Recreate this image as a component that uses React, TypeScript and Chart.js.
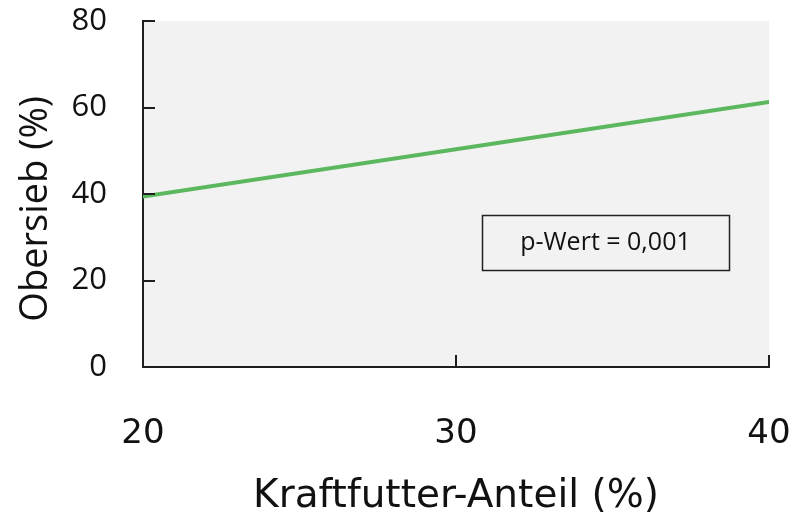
import { useEffect, useRef } from "react";
import { Chart, registerables } from "chart.js";

Chart.register(...registerables);

// ---- data ----
const kraftfutterAnteil = [20, 40];
const obersieb = [39.4, 61.3];
const xTickValues = [20, 30, 40];
const yTickValues = [0, 20, 40, 60, 80];
const xTitle = "Kraftfutter-Anteil (%)";
const yTitle = "Obersieb (%)";
const annotationText = "p-Wert = 0,001";
const annotationX = [30.83, 38.72];
const annotationY = [22.4, 35.1];

const FONT = "'Open Sans', 'DejaVu Sans', sans-serif";
const WIDE_FONT = "'DejaVu Sans', sans-serif";
const AXIS_COLOR = "#1e1e1e";

const decorPlugin = {
  id: "decor",
  beforeDraw(chart: any) {
    const { ctx, chartArea } = chart;
    ctx.save();
    ctx.fillStyle = "#f2f2f2";
    ctx.fillRect(chartArea.left, chartArea.top, chartArea.right - chartArea.left, chartArea.bottom - chartArea.top);
    ctx.restore();
  },
  afterDraw(chart: any) {
    const { ctx, chartArea, scales } = chart;
    const xs = scales.x;
    const ys = scales.y;
    const len = 12;
    ctx.save();
    ctx.strokeStyle = AXIS_COLOR;
    ctx.lineWidth = 2;
    ctx.beginPath();
    ys.ticks.forEach((t: any) => {
      const py = Math.round(ys.getPixelForValue(t.value));
      ctx.moveTo(chartArea.left, py);
      ctx.lineTo(chartArea.left + len, py);
    });
    xs.ticks.forEach((t: any) => {
      const px = Math.round(xs.getPixelForValue(t.value));
      ctx.moveTo(px, chartArea.bottom);
      ctx.lineTo(px, chartArea.bottom - len);
    });
    ctx.stroke();

    // annotation box
    const x0 = xs.getPixelForValue(annotationX[0]);
    const x1 = xs.getPixelForValue(annotationX[1]);
    const y0 = ys.getPixelForValue(annotationY[1]);
    const y1 = ys.getPixelForValue(annotationY[0]);
    ctx.lineWidth = 1.5;
    ctx.strokeStyle = "#222";
    ctx.strokeRect(Math.round(x0) + 0.5, Math.round(y0) + 0.5, Math.round(x1 - x0), Math.round(y1 - y0));
    ctx.fillStyle = "#111";
    ctx.font = `25px ${FONT}`;
    ctx.textAlign = "center";
    ctx.textBaseline = "middle";
    ctx.fillText(annotationText, (x0 + x1) / 2, (y0 + y1) / 2);
    ctx.restore();
  },
};

export default function App() {
  const canvasRef = useRef<HTMLCanvasElement | null>(null);

  useEffect(() => {
    if (!canvasRef.current) return;
    const chart = new Chart(canvasRef.current, {
      type: "line",
      data: {
        datasets: [
          {
            data: kraftfutterAnteil.map((x, i) => ({ x, y: obersieb[i] })),
            borderColor: "#5cb85f",
            borderWidth: 4,
            borderCapStyle: "round",
            pointRadius: 0,
            fill: false,
            tension: 0,
          },
        ],
      },
      options: {
        animation: false,
        responsive: false,
        maintainAspectRatio: false,
        layout: { padding: { top: 21, right: 27, left: 0, bottom: 0 } },
        plugins: { legend: { display: false }, tooltip: { enabled: false } },
        scales: {
          x: {
            type: "linear",
            min: 20,
            max: 40,
            afterBuildTicks: (s: any) => {
              s.ticks = xTickValues.map((v) => ({ value: v }));
            },
            afterFit: (s: any) => {
              s.height = 151;
              s.paddingLeft = 0;
              s.paddingRight = 0;
              s.paddingTop = 0;
              s.paddingBottom = 0;
            },
            grid: { display: false, drawTicks: false },
            border: { display: true, color: AXIS_COLOR, width: 2 },
            ticks: {
              padding: 47,
              color: "#111",
              font: { family: WIDE_FONT, size: 34 },
              maxRotation: 0,
            },
            title: {
              display: true,
              text: xTitle,
              color: "#111",
              font: { family: WIDE_FONT, size: 39, lineHeight: 1.1 },
              padding: { top: 0, bottom: 0 },
            },
          },
          y: {
            type: "linear",
            min: 0,
            max: 80,
            afterBuildTicks: (s: any) => {
              s.ticks = yTickValues.map((v) => ({ value: v }));
            },
            afterFit: (s: any) => {
              s.width = 143;
              s.paddingLeft = 0;
              s.paddingRight = 0;
              s.paddingTop = 0;
              s.paddingBottom = 0;
            },
            grid: { display: false, drawTicks: false },
            border: { display: true, color: AXIS_COLOR, width: 2 },
            ticks: {
              padding: 36,
              color: "#111",
              font: { family: FONT, size: 31 },
            },
            title: {
              display: true,
              text: yTitle + "   ",
              color: "#111",
              font: { family: FONT, size: 38 },
              padding: { top: 13, bottom: 0 },
            },
          },
        },
      },
      plugins: [decorPlugin],
    } as any);
    return () => chart.destroy();
  }, []);

  return (
    <div style={{ position: "fixed", left: 0, top: 0, width: 796, height: 518, background: "#fff" }}>
      <canvas ref={canvasRef} width={796} height={518} style={{ width: 796, height: 518, display: "block" }} />
    </div>
  );
}
